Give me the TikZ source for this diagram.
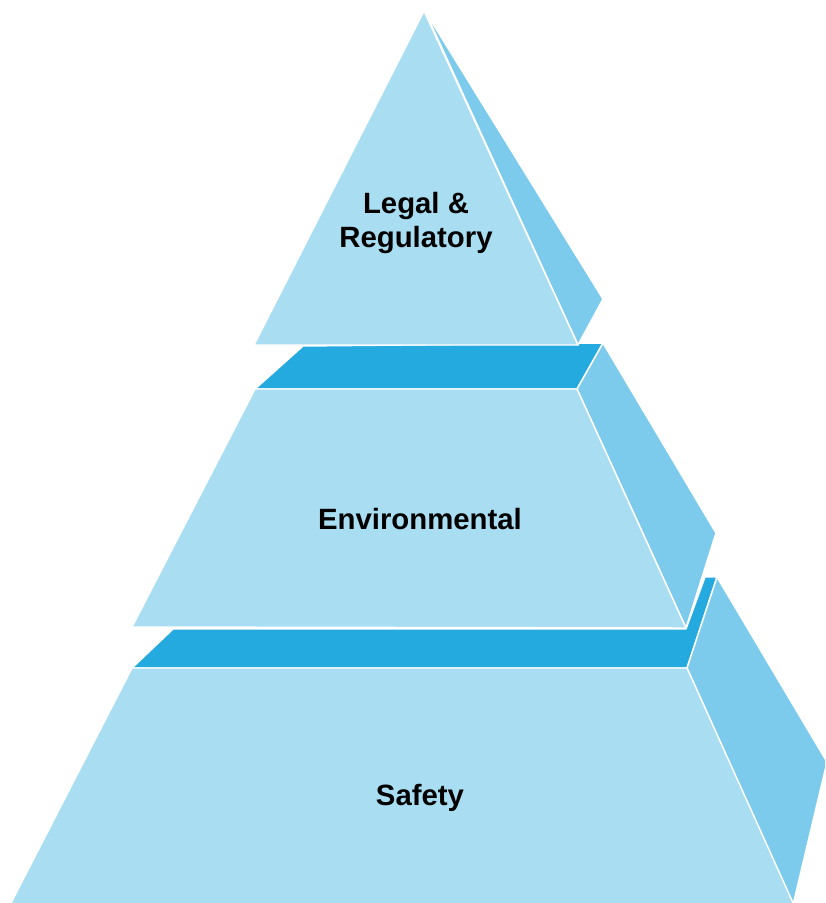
\documentclass[tikz,border=0pt]{standalone}
\usepackage{fontspec}
\setmainfont{Liberation Sans}
\definecolor{front}{HTML}{A8DDF2}
\definecolor{side}{HTML}{7DCBEC}
\definecolor{topf}{HTML}{25AAE0}
\tikzset{
  face/.style={draw=white, line width=1.1pt, line join=round},
  frontface/.style={face, fill=front},
  sideface/.style={face, fill=side},
  topface/.style={face, fill=topf},
  label/.style={font=\bfseries\fontsize{22}{25}\selectfont, text=black, align=center, inner sep=0pt}
}
\begin{document}
\begin{tikzpicture}[x=0.75pt,y=-0.75pt]
\useasboundingbox (0,0) rectangle (825,903);
\begin{scope}
\clip (0,0) rectangle (825,903);
% bottom tier
\draw[topface] (132,668) -- (687,668) -- (717,577) -- (705,577) -- (686,629) -- (173,629) -- cycle;
\draw[sideface] (687,668) -- (717,577) -- (827,762) -- (793,905) -- cycle;
\draw[frontface] (132,668) -- (687,668) -- (794,905) -- (10,905) -- cycle;
% middle tier
\draw[topface] (255,389) -- (577,389) -- (603,343) -- (303,346) -- cycle;
\draw[sideface] (577,389) -- (603,343) -- (716,533) -- (686,628) -- cycle;
\draw[frontface] (255,389) -- (577,389) -- (686,628) -- (132,627) -- cycle;
% top tier
\draw[sideface] (425,11) -- (603,299) -- (578,345) -- cycle;
\draw[frontface] (424,11) -- (578,345) -- (254,345) -- cycle;
\end{scope}
\node[label] (legal) at (416,223) {Legal \&\\Regulatory};
\node[label] (env) at (420,519) {Environmental};
\node[label] (safety) at (420,798) {Safety};
\end{tikzpicture}
\end{document}
